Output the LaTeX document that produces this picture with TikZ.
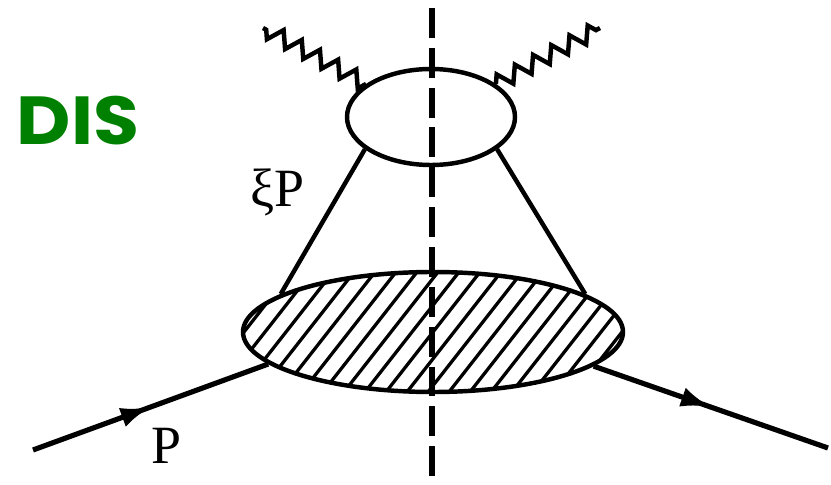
\documentclass[tikz,border=0pt]{standalone}
\usepackage{fontspec}
\usetikzlibrary{shapes.geometric,decorations.pathmorphing,decorations.markings,arrows.meta,calc}
\newfontfamily\tmsfont{Liberation Serif}
\newfontfamily\disfont{Poppins}
\definecolor{disgreen}{RGB}{0,128,0}
\tikzset{
  blob/.style={ellipse, draw=black, line width=3.8pt, inner sep=0pt},
  leg/.style={line width=3.8pt},
  photon/.style={line width=3.8pt, decorate, decoration={zigzag, segment length=0.62cm, amplitude=0.24cm}},
  cutline/.style={line width=5pt, dash pattern=on 25.5pt off 8.5pt},
  fermion/.style={line width=4.4pt, postaction={decorate}, decoration={markings, mark=at position 0.5 with {\arrow{Latex[length=0.9cm,width=0.6cm]}}}},
  lab/.style={font=\tmsfont\fontsize{46}{50}\selectfont, inner sep=0pt}
}
\begin{document}
\begin{tikzpicture}[x=0.03cm, y=-0.03cm]
\useasboundingbox (0,0) rectangle (831,485);
% top blob
\node[blob, minimum width=5.04cm, minimum height=2.88cm] (top) at (431,117) {};
% bottom hatched blob
\node[blob, minimum width=11.4cm, minimum height=3.6cm,
  path picture={
    \foreach \i in {-26,...,26}{
      \draw[line width=2.8pt] ($(path picture bounding box.center)+(\i*0.63cm-1.85cm,-2.36cm)$) -- ($(path picture bounding box.center)+(\i*0.63cm+1.85cm,2.36cm)$);
    }
  }] (bot) at (433,332) {};
% free ends
\coordinate (g1) at (263,28);
\coordinate (g2) at (600,28);
\coordinate (pin) at (33,450);
\coordinate (pout) at (828,448);
\coordinate (cuttop) at (432,8);
\coordinate (cutbot) at (432,485);
% photons
\draw[photon] (top.153) -- (g1);
\draw[photon] (top.27) -- (g2);
% parton legs
\draw[leg] (top.206) -- (bot.166);
\draw[leg] (top.334) -- (bot.14);
% proton lines
\draw[fermion] (pin) -- (bot.191);
\draw[fermion] (bot.348.5) -- (pout);
% cut
\draw[cutline] (cuttop) -- (cutbot);
% labels
\node[lab, anchor=west] (xip) at (250,192) {ξP};
\node[lab, anchor=west] (plab) at (151,446) {P};
\node[font=\disfont\bfseries\fontsize{58}{60}\selectfont, text=disgreen, inner sep=0pt, xscale=1.1] (dis) at (78,121) {DIS};
\end{tikzpicture}
\end{document}
